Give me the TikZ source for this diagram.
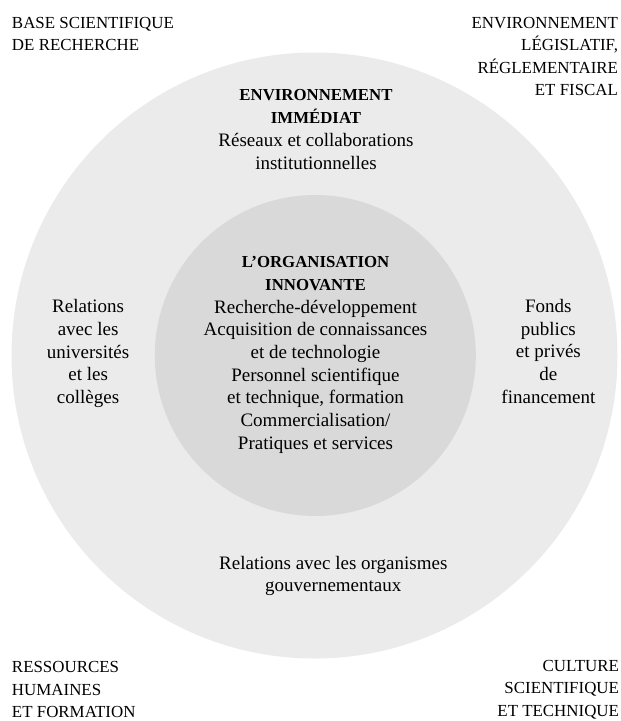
\documentclass[tikz,border=0pt]{standalone}
\usepackage{fontspec}
\setmainfont{Liberation Serif}
\definecolor{outerfill}{RGB}{235,235,235}
\definecolor{innerfill}{RGB}{217,217,217}
\newcommand{\capsz}{\fontsize{16.9}{22.5}\selectfont}
\newcommand{\boldsz}{\fontsize{16.8}{22.7}\selectfont\bfseries}
\newcommand{\bodysz}{\fontsize{19}{22.7}\selectfont}
\newcommand{\hdline}[1]{{\boldsz #1}}
\begin{document}
\begin{tikzpicture}[x=1pt,y=-1pt,
  every node/.style={inner sep=0pt, outer sep=0pt},
  ring/.style={circle, draw=none},
  bodytext/.style={font=\bodysz, align=center, text=black},
  corner/.style={font=\capsz, text=black}]
\useasboundingbox (0,0) rectangle (621,721);
\node[ring, fill=outerfill, minimum size=606pt] (outer) at (314.5,355.5) {};
\node[ring, fill=innerfill, minimum size=321pt] (inner) at (315.3,355.5) {};

\node[bodytext] (immediat) at (316,129.5) {\hdline{ENVIRONNEMENT}\\\hdline{IMMÉDIAT}\\Réseaux et collaborations\\institutionnelles};
\node[bodytext] (org) at (315.5,355) {\hdline{L’ORGANISATION}\\\hdline{INNOVANTE}\\Recherche-développement\\Acquisition de connaissances\\et de technologie\\Personnel scientifique\\et technique, formation\\Commercialisation/\\Pratiques et services};
\node[bodytext] (univ) at (88.1,353.5) {Relations\\avec les\\universités\\et les\\collèges};
\node[bodytext] (fonds) at (548.4,351.4) {Fonds\\publics\\et privés\\de\\financement};
\node[bodytext] (gouv) at (333.3,575.9) {Relations avec les organismes\\gouvernementaux};

\node[corner, anchor=west, align=left] (base) at (12,34) {BASE SCIENTIFIQUE\\DE RECHERCHE};
\node[corner, anchor=east, align=right] (legis) at (618,56.5) {ENVIRONNEMENT\\LÉGISLATIF,\\RÉGLEMENTAIRE\\ET FISCAL};
\node[corner, anchor=west, align=left] (rh) at (12,689.5) {RESSOURCES\\HUMAINES\\ET FORMATION};
\node[corner, anchor=east, align=right] (culture) at (619,689.5) {CULTURE\\SCIENTIFIQUE\\ET TECHNIQUE};
\end{tikzpicture}
\end{document}
